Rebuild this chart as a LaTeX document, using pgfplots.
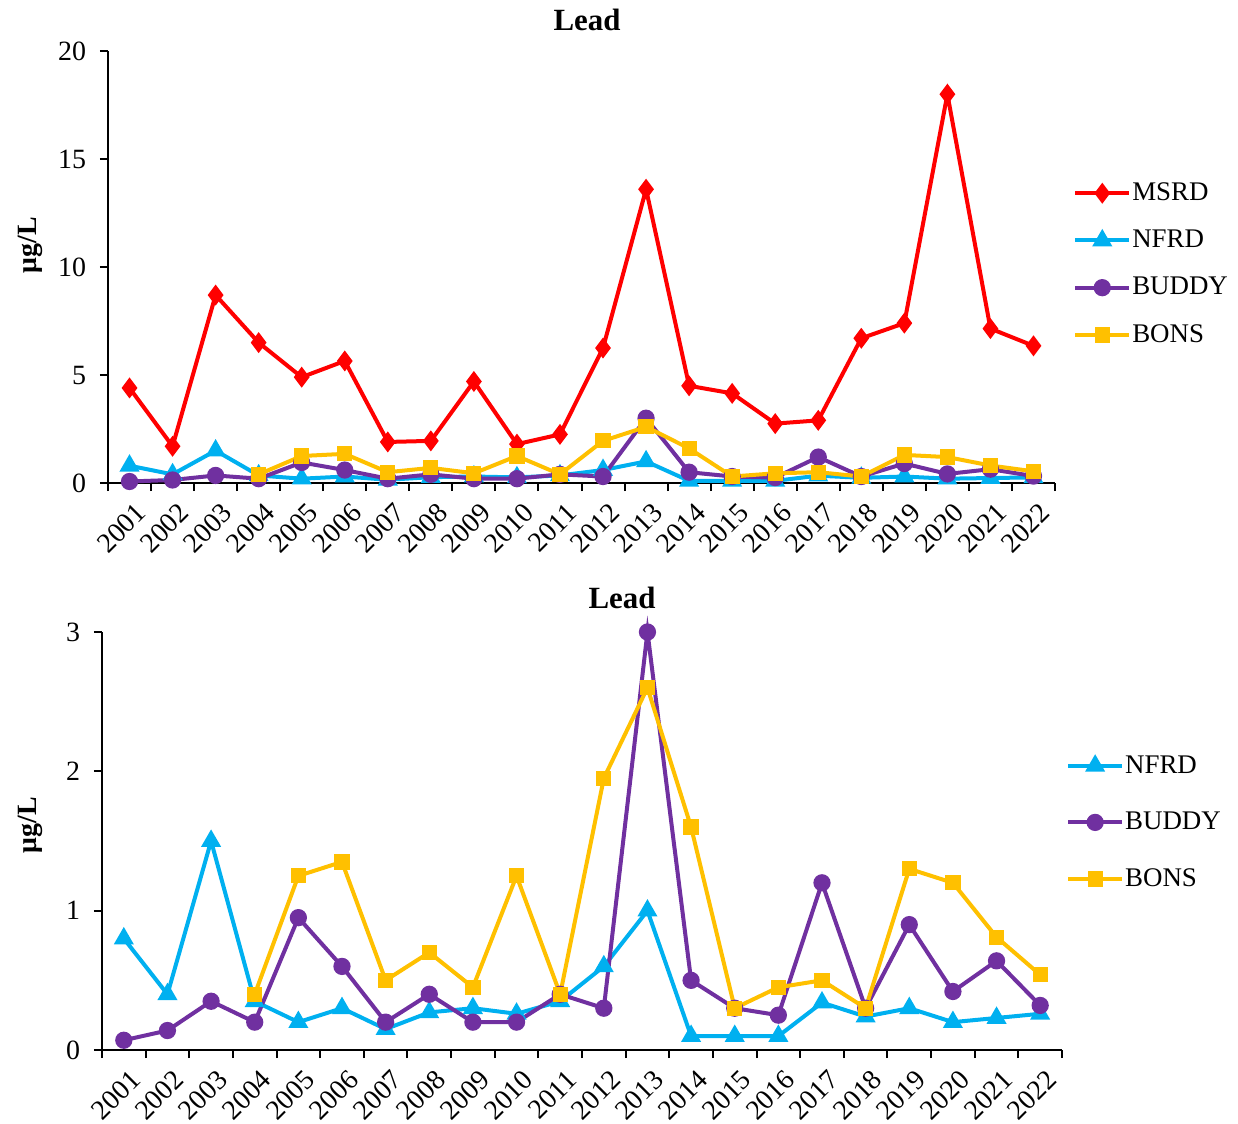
\documentclass[border=0pt]{standalone}
\usepackage{pgfplots}
\pgfplotsset{compat=1.18}
\usepackage{fontspec}
\setmainfont{Liberation Serif}
\definecolor{msrd}{HTML}{FF0000}
\definecolor{nfrd}{HTML}{00B0F0}
\definecolor{buddy}{HTML}{7030A0}
\definecolor{bons}{HTML}{FFC000}
\pgfplotsset{
  leadaxis/.style={
    scale only axis, clip=false,
    xmin=0.5, xmax=22.5, ymin=0,
    axis x line*=bottom, axis y line*=left,
    axis line style={line width=1bp, black},
    tick align=outside, major tick length=4bp,
    every tick/.style={line width=1bp, black},
    xtick={0.5,1.5,...,22.5},
    x tick label as interval,
    xticklabels={2001,2002,2003,2004,2005,2006,2007,2008,2009,2010,2011,2012,2013,2014,2015,2016,2017,2018,2019,2020,2021,2022},
    xticklabel style={xshift=2.5bp, yshift=-4.5bp, rotate=45, anchor=north east, inner sep=0.5bp, font=\fontsize{14}{16}\selectfont},
    yticklabel style={xshift=-3.5bp, font=\fontsize{14}{16}\selectfont},
    /pgf/number format/assume math mode=true,
    legend cell align=left,
    legend image code/.code={%
      \begin{pgfinterruptboundingbox}\draw[mark repeat=2,mark phase=2] plot coordinates {(0bp,0bp)(13.5bp,0bp)(27bp,0bp)};\end{pgfinterruptboundingbox}%
      \pgfpathrectangle{\pgfpoint{0bp}{-3bp}}{\pgfpoint{26.5bp}{6bp}}\pgfusepath{use as bounding box}},
    every axis plot/.append style={line width=2bp},
  },
  smsrd/.style={color=msrd, mark=diamond*, mark size=3.6bp, mark options={solid}},
  snfrd/.style={color=nfrd, mark=triangle*, mark size=3.8bp},
  sbuddy/.style={color=buddy, mark=*, mark size=3.3bp},
  sbons/.style={color=bons, mark=square*, mark size=2.8bp},
}
\begin{document}
\begin{tikzpicture}
\path (0,0) rectangle (619bp,-562bp);
\node[font=\bfseries\fontsize{15.5}{17}\selectfont] at (293.5bp,-10bp) {Lead};
\node[font=\bfseries\fontsize{14}{16}\selectfont, rotate=90] at (15bp,-122.5bp) {μg/L};
\node[font=\bfseries\fontsize{15.5}{17}\selectfont] at (311bp,-299bp) {Lead};
\node[font=\bfseries\fontsize{14}{16}\selectfont, rotate=90] at (15bp,-412.5bp) {μg/L};

\begin{axis}[leadaxis, at={(54bp,-241.5bp)}, anchor=south west,
  width=473.5bp, height=216bp, ymax=20, ytick={0,5,10,15,20},
  legend style={at={(1.021,0.705)}, anchor=north west, draw=none, fill=none,
    font=\fontsize{13.5}{15}\selectfont, row sep=9.3bp, inner sep=0pt}]
\addplot[smsrd] coordinates {(1,4.4)(2,1.7)(3,8.7)(4,6.5)(5,4.9)(6,5.65)(7,1.9)(8,1.95)(9,4.7)(10,1.8)(11,2.25)(12,6.25)(13,13.6)(14,4.5)(15,4.15)(16,2.75)(17,2.9)(18,6.7)(19,7.4)(20,18.0)(21,7.15)(22,6.35)};
\addplot[snfrd] coordinates {(1,0.8)(2,0.4)(3,1.5)(4,0.35)(5,0.2)(6,0.3)(7,0.15)(8,0.27)(9,0.3)(10,0.26)(11,0.35)(12,0.6)(13,1.0)(14,0.1)(15,0.1)(16,0.1)(17,0.34)(18,0.24)(19,0.3)(20,0.2)(21,0.23)(22,0.26)};
\addplot[sbuddy] coordinates {(1,0.07)(2,0.14)(3,0.35)(4,0.2)(5,0.95)(6,0.6)(7,0.2)(8,0.4)(9,0.2)(10,0.2)(11,0.4)(12,0.3)(13,3.0)(14,0.5)(15,0.3)(16,0.25)(17,1.2)(18,0.3)(19,0.9)(20,0.42)(21,0.64)(22,0.32)};
\addplot[sbons] coordinates {(4,0.4)(5,1.25)(6,1.35)(7,0.5)(8,0.7)(9,0.45)(10,1.25)(11,0.4)(12,1.95)(13,2.6)(14,1.6)(15,0.3)(16,0.45)(17,0.5)(18,0.3)(19,1.3)(20,1.2)(21,0.81)(22,0.54)};
\legend{MSRD,NFRD,BUDDY,BONS}
\end{axis}

\begin{axis}[leadaxis, at={(51bp,-525bp)}, anchor=south west,
  width=480bp, height=209bp, ymax=3, ytick={0,1,2,3},
  legend style={at={(1.006,0.715)}, anchor=north west, draw=none, fill=none,
    font=\fontsize{13.5}{15}\selectfont, row sep=14bp, inner sep=0pt}]
\addplot[snfrd] coordinates {(1,0.8)(2,0.4)(3,1.5)(4,0.35)(5,0.2)(6,0.3)(7,0.15)(8,0.27)(9,0.3)(10,0.26)(11,0.35)(12,0.6)(13,1.0)(14,0.1)(15,0.1)(16,0.1)(17,0.34)(18,0.24)(19,0.3)(20,0.2)(21,0.23)(22,0.26)};
\addplot[sbuddy] coordinates {(1,0.07)(2,0.14)(3,0.35)(4,0.2)(5,0.95)(6,0.6)(7,0.2)(8,0.4)(9,0.2)(10,0.2)(11,0.4)(12,0.3)(13,3.0)(14,0.5)(15,0.3)(16,0.25)(17,1.2)(18,0.3)(19,0.9)(20,0.42)(21,0.64)(22,0.32)};
\addplot[sbons] coordinates {(4,0.4)(5,1.25)(6,1.35)(7,0.5)(8,0.7)(9,0.45)(10,1.25)(11,0.4)(12,1.95)(13,2.6)(14,1.6)(15,0.3)(16,0.45)(17,0.5)(18,0.3)(19,1.3)(20,1.2)(21,0.81)(22,0.54)};
\legend{NFRD,BUDDY,BONS}
\end{axis}
\end{tikzpicture}
\end{document}
